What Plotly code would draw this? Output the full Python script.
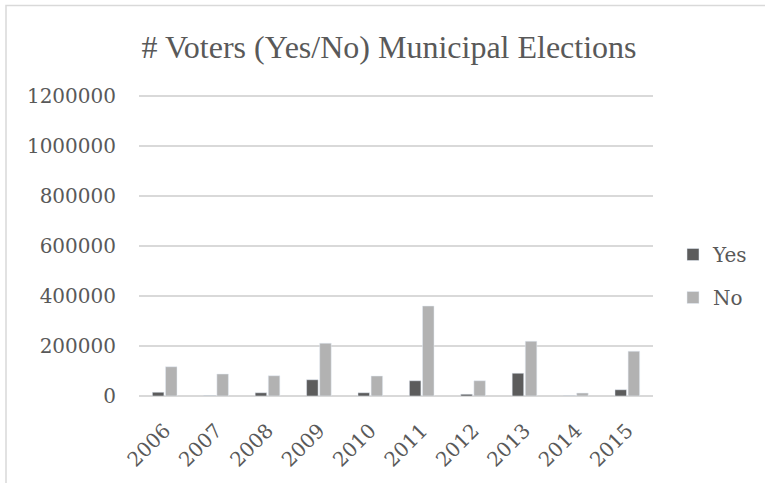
import plotly.graph_objects as go

years = ["2006", "2007", "2008", "2009", "2010", "2011", "2012", "2013", "2014", "2015"]
yes_voters = [15000, 1500, 13000, 65000, 13000, 61000, 7000, 91000, 1000, 25000]
no_voters = [117000, 88000, 81000, 211000, 80000, 360000, 61000, 219000, 12000, 179000]
y_ticks = [0, 200000, 400000, 600000, 800000, 1000000, 1200000]
title_text = "# Voters (Yes/No) Municipal Elections"

W, H = 765, 483
L, R, T, B = 139, 653, 92, 396
Y_MAX = 1216000

def px_x(p):
    return (p - L) / (R - L)

def px_y(p):
    return (B - p) / (B - T)

fig = go.Figure()
fig.add_trace(go.Bar(x=years, y=yes_voters, name="Yes", marker_color="#5c5c5c", legendgroup="a"))
fig.add_trace(go.Bar(x=years, y=no_voters, name="No", marker_color="#b2b2b2", legendgroup="b"))

tick_font = dict(family="DejaVu Serif", size=20, color="#595959")

fig.update_layout(
    width=W, height=H,
    margin=dict(l=L, r=W - R, t=T, b=H - B),
    paper_bgcolor="white", plot_bgcolor="white",
    barmode="group", bargap=0.49, bargroupgap=0.12,
    font=tick_font,
    title=dict(text=title_text, x=px_x(389), xref="paper", xanchor="center",
               y=1 - 47 / H, yref="container", yanchor="middle",
               font=dict(family="Liberation Serif", size=32, color="#595959")),
    xaxis=dict(type="category", tickangle=-45, showgrid=False, showline=False,
               ticks="", tickfont=tick_font, ticklabelstandoff=18),
    yaxis=dict(range=[0, Y_MAX], tickvals=y_ticks, tickformat="d",
               showgrid=True, gridcolor="#d9d9d9", gridwidth=1.5,
               zeroline=True, zerolinecolor="#d9d9d9", zerolinewidth=1.5,
               showline=False, ticks="", tickfont=tick_font, ticklabelstandoff=22),
    legend=dict(x=px_x(673), xanchor="left", y=px_y(235), yanchor="top",
                font=tick_font, tracegroupgap=14, bgcolor="rgba(0,0,0,0)"),
    shapes=[dict(type="rect", xref="paper", yref="paper",
                 x0=px_x(6), x1=px_x(800), y0=px_y(520), y1=px_y(5.5),
                 line=dict(color="#d9d9d9", width=1.5), layer="below")],
)

fig.write_html("out.html")
